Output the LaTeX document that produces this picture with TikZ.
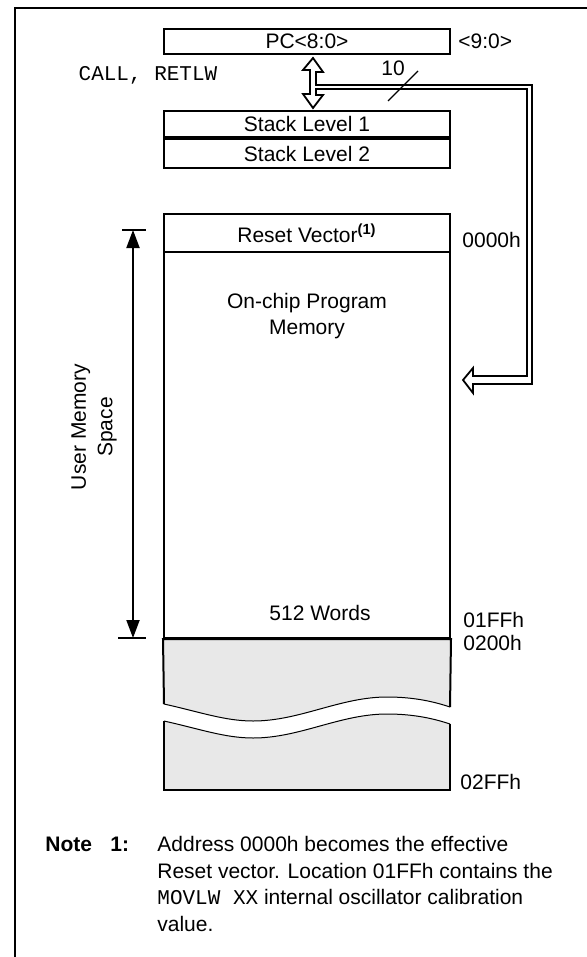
\documentclass[tikz,border=0pt]{standalone}
\usepackage{fontspec}
\setmainfont{Liberation Sans}
\setmonofont{Liberation Mono}
\usepackage{tikz}
\usetikzlibrary{calc}
\usetikzlibrary{positioning}
\usetikzlibrary{arrows.meta}
\tikzset{
    every node/.style={font=\fontsize{10.5}{13.25}\selectfont},
    regbox/.style={draw, line width=1pt, minimum width=143pt, inner sep=0pt},
    addr/.style={anchor=west, inner sep=0pt},
    bus/.style={line width=0.9pt, line join=miter},
    greyfill/.style={fill=gray!18},
}

\begin{document}
\begin{tikzpicture}[x=0.5pt,y=-0.5pt]
    \useasboundingbox (0,0) rectangle (587,957);
    % frame
    \draw[line width=1pt] (590,8) -- (15,8) -- (15,960);

    % PC and stack
    \node (pc) [regbox, minimum height=12.5pt] at (307,41.5) {PC<8:0>};
    \node (pcw) [addr] at (458,41) {<9:0>};
    \node (call) at (148,75) {\ttfamily CALL, RETLW};
    \node (stack1) [regbox, minimum height=13pt] at (307,124) {Stack Level 1};
    \node (stack2) [regbox, minimum height=14.5pt, below=0pt of stack1] {Stack Level 2};

    % program memory
    \node (mem) [regbox, minimum height=212pt] at (307,426) {};
    \node (reset) [regbox, minimum height=19pt, anchor=north] at (mem.north) {Reset Vector\textsuperscript{\textbf{(1)}}};
    \node (onchip) [align=center] at (307,316) {On-chip Program\\Memory};
    \node (words) at (320,613) {512 Words};
    \node (a0000) [addr] at (462,240) {0000h};
    \node (a01ff) [addr] at (463,620) {01FFh};
    \node (a0200) [addr] at (463,643) {0200h};
    \node (a02ff) [addr] at (460,782) {02FFh};

    % unimplemented part, cut by the break
    \fill[greyfill] (mem.south west) -- (mem.south east) -- (450,707)
        .. controls (435,702) and (415,697) .. (387,697)
        .. controls (340,697) and (300,721) .. (253,721)
        .. controls (225,721) and (200,712) .. (164,704) -- cycle;
    \fill[greyfill] (164,721) .. controls (200,729) and (225,738) .. (253,738)
        .. controls (300,738) and (340,714) .. (387,714)
        .. controls (415,714) and (435,719) .. (450,724) -- (450,790) -- (164,790) -- cycle;
    \draw[line width=1pt] (164,704) -- (mem.south west) -- (mem.south east) -- (450,707);
    \draw[line width=1pt] (450,724) -- (450,790) -- (164,790) -- (164,721);
    \draw[line width=0.5pt] (164,704) .. controls (200,712) and (225,721) .. (253,721)
        .. controls (300,721) and (340,697) .. (387,697)
        .. controls (415,697) and (435,702) .. (450,707);
    \draw[line width=0.5pt] (164,721) .. controls (200,729) and (225,738) .. (253,738)
        .. controls (300,738) and (340,714) .. (387,714)
        .. controls (415,714) and (435,719) .. (450,724);

    % user memory space
    \coordinate (dimtop) at (133,230);
    \coordinate (dimbot) at (133,638);
    \draw[line width=1pt] (122,230) -- (146,230);
    \draw[line width=1pt] (118,638) -- (146,638);
    \draw[line width=1pt, {Triangle[length=9pt,width=6.5pt]}-{Triangle[length=9pt,width=6.5pt]}] (dimtop) -- (dimbot);
    \node (space) [rotate=90, align=center] at (94,427) {User Memory\\Space};

    % call/return path and 10-bit bus
    \coordinate (up) at ($(pc.south)+(6,3)$);
    \coordinate (dn) at ($(stack1.north)+(6,-2)$);
    \coordinate (busin) at (463,380);
    \draw[bus] (up) -- ++(10,14) -- ++(-7,0) -- ++(0,13) -- ++(216,0) -- ++(0,299)
        -- ++(-59,0) -- ++(0,9) -- (busin) -- ++(10,-12) -- ++(0,8) -- ++(54,0)
        -- ++(0,-287) -- ++(-211,0) -- ++(0,6) -- ++(7,0) -- (dn) -- ++(-10,-14)
        -- ++(7,0) -- ++(0,-24) -- ++(-7,0) -- cycle;
    \draw[line width=0.6pt] (388,101) -- (418,71);
    \node (ten) at (393,68) {10};

    % note
    \node (note) [anchor=base west, inner sep=0pt] at (45,851) {\textbf{Note}};
    \node (noteno) [anchor=base west, inner sep=0pt] at (110,851) {\textbf{1:}};
    \node (notetxt) [anchor=north west, inner sep=0pt, align=left] at (157,836)
        {Address 0000h becomes the effective\\Reset vector. Location 01FFh contains the\\\texttt{MOVLW XX} internal oscillator calibration\\value.};
\end{tikzpicture}
\end{document}
